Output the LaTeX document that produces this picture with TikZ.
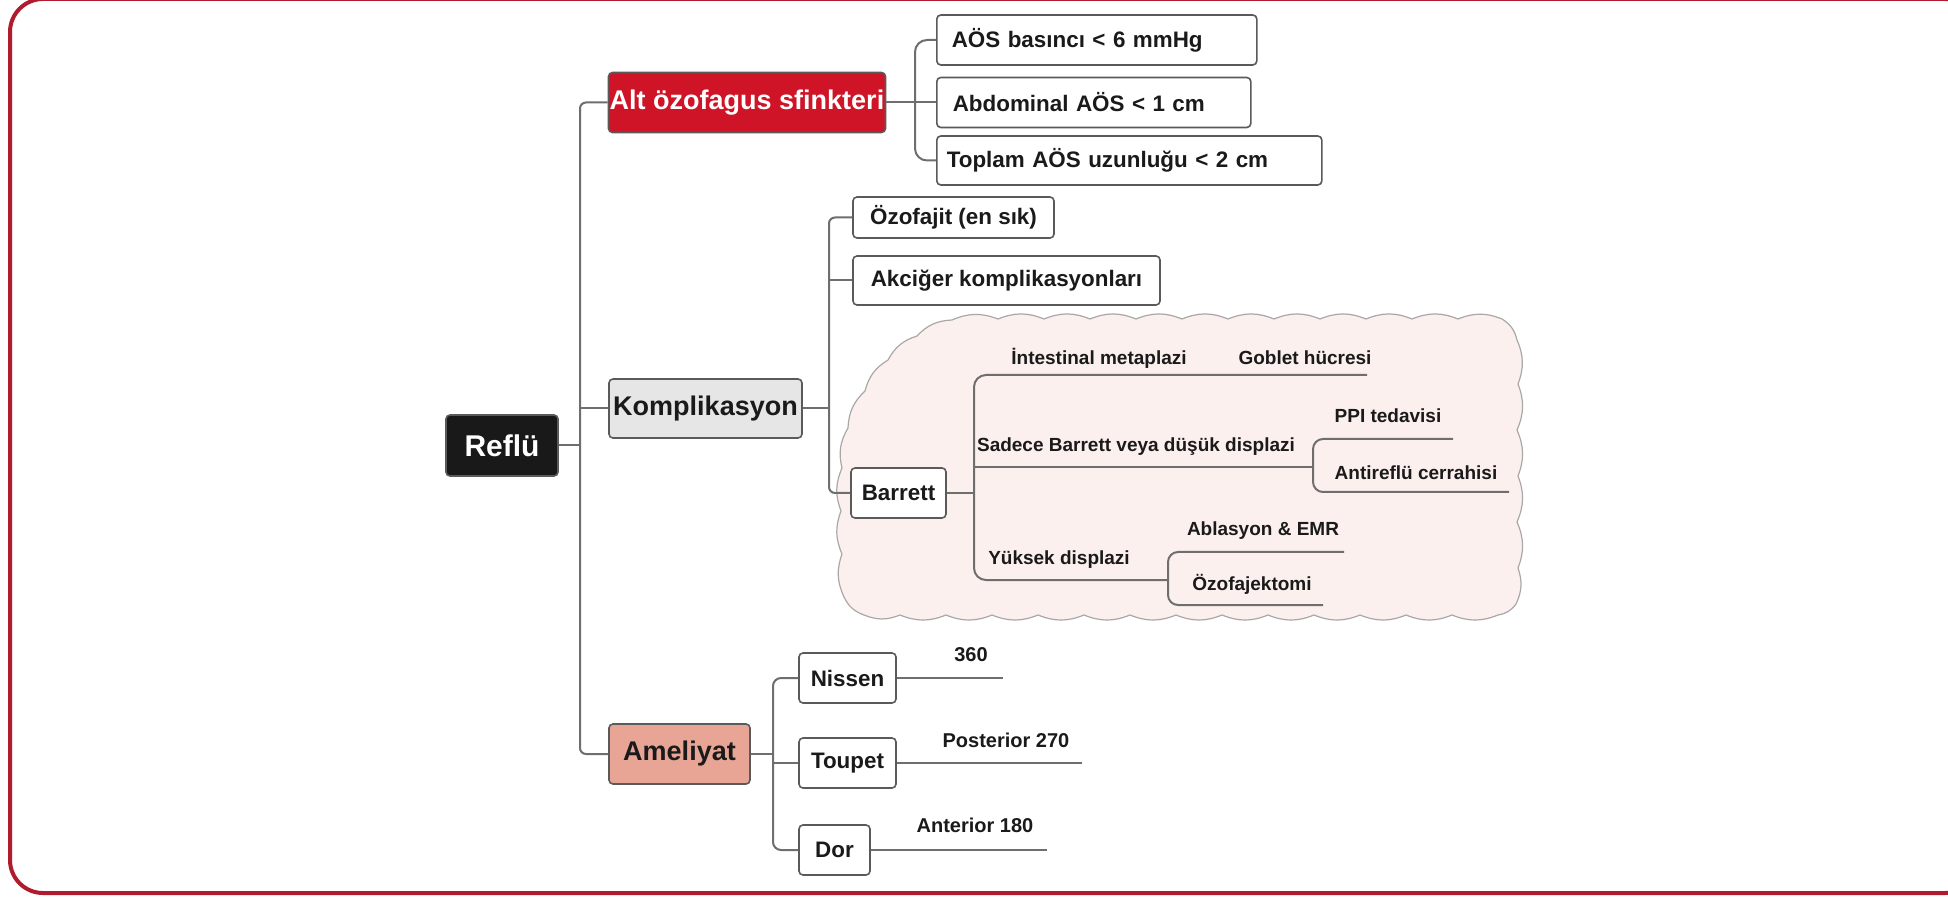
\documentclass[tikz,border=0pt]{standalone}
\usepackage{fontspec}
\setmainfont{Liberation Sans}
\definecolor{framered}{HTML}{B01C2E}
\definecolor{altred}{HTML}{CE1426}
\definecolor{kompgray}{HTML}{E6E6E6}
\definecolor{amelsal}{HTML}{E8A595}
\definecolor{cloudfill}{HTML}{FCF0EE}
\definecolor{cloudline}{HTML}{A8A8A8}
\definecolor{linegray}{HTML}{6E6E6E}
\definecolor{boxline}{HTML}{5A5A5A}
\definecolor{txt}{HTML}{1A1A1A}
\begin{document}
\begin{tikzpicture}[x=0.5pt,y=-0.5pt,
  conn/.style={draw=linegray, line width=1pt},
  box/.style={draw=boxline, line width=0.8pt, rounded corners=2pt, inner sep=0pt, text=txt, font=\bfseries\fontsize{11.2}{13}\selectfont},
  main/.style={box, font=\bfseries\fontsize{13.5}{16}\selectfont},
  lbl/.style={inner sep=0pt, text=txt, font=\bfseries\fontsize{9.5}{11}\selectfont},
  lblb/.style={lbl, font=\bfseries\fontsize{10}{12}\selectfont},
  cloudshape/.style={draw=cloudline, fill=cloudfill, line width=0.6pt},
  bump/.style={bend left=22}
]
\useasboundingbox (0,0) rectangle (1948,897);
\clip (0,0) rectangle (1948,897);
\fill[white] (0,0) rectangle (1948,897);
% frame
\draw[framered, line width=2pt, rounded corners=16.5pt] (10,-1) rectangle (1978,893);

% cloud
\path[cloudshape] (952,320)
  \foreach \xx in {998,1044,1090,1136,1182,1228,1274,1320,1366,1412,1458,1502} { to[bump] (\xx,319) }
  to[bump] (1517,340)
  \foreach \yy/\xx in {384/1518,430/1517,476/1518,522/1517,568/1518,604/1516} { to[bump] (\xx,\yy) }
  to[bump] (1498,615)
  \foreach \xx in {1452,1406,1360,1314,1268,1222,1176,1130,1084,1038,992,946,900,864} { to[bump] (\xx,615) }
  to[bump] (844,597)
  to[bump] (842,554) to[bump] (841,511) to[bump] (842,468)
  to[bump] (848,428) to[bump] (865,391) to[bump] (888,360) to[bump] (917,336)
  to[bump] (952,320) -- cycle;

% main nodes
\node[main, fill=black!90, text=white, font=\bfseries\fontsize{15}{18}\selectfont, minimum width=56pt, minimum height=30.5pt] (reflu) at (502,445.5) {Reflü};
\node[main, fill=altred, text=white, minimum width=138.5pt, minimum height=30pt] (alt) at (747,102.5) {Alt özofagus sfinkteri};
\node[main, fill=kompgray, minimum width=96.5pt, minimum height=29.5pt] (komp) at (705.5,408.5) {Komplikasyon};
\node[main, fill=amelsal, minimum width=70.5pt, minimum height=30pt] (amel) at (679.5,754) {Ameliyat};

% leaves of Alt
\node[box, fill=white, anchor=west, minimum height=25pt, inner xsep=7.5pt, text width=145pt, align=left] (aos1) at (936,40) {AÖS basıncı < 6 mmHg};
\node[box, fill=white, anchor=west, minimum height=25pt, inner xsep=8pt, text width=141pt, align=left] (aos2) at (936,102.5) {Abdominal AÖS < 1 cm};
\node[box, fill=white, anchor=west, minimum height=24.5pt, inner xsep=5pt, text width=182.5pt, align=left] (aos3) at (936,160.5) {Toplam AÖS uzunluğu < 2 cm};

% leaves of Komplikasyon
\node[box, fill=white, minimum width=100.5pt, minimum height=20.5pt] (ozo) at (953.5,217.5) {Özofajit (en sık)};
\node[box, fill=white, minimum width=153.5pt, minimum height=24.5pt] (akc) at (1006.5,280.5) {Akciğer komplikasyonları};
\node[box, fill=white, minimum width=47.5pt, minimum height=25pt] (barrett) at (898.5,493) {Barrett};

% leaves of Ameliyat
\node[box, fill=white, minimum width=48.5pt, minimum height=25pt] (nissen) at (847.5,678) {Nissen};
\node[box, fill=white, minimum width=48.5pt, minimum height=25pt] (toupet) at (847.5,763) {Toupet};
\node[box, fill=white, minimum width=35.5pt, minimum height=25pt] (dor) at (834.5,850) {Dor};

% trunk
\coordinate (t) at (580,445.5);
\draw[conn] (reflu.east) -- (t);
\draw[conn, rounded corners=3pt] (alt.west) -| (t) |- (amel.west);
\draw[conn] (komp.west) -- (komp.west -| t);

% Alt bracket
\coordinate (ab) at (915,102.5);
\draw[conn] (alt.east) -- (aos2.west);
\draw[conn, rounded corners=6pt] (aos1.west) -| (ab) |- (aos3.west);

% Komplikasyon bracket
\coordinate (kb) at (829,408.5);
\draw[conn] (komp.east) -- (kb);
\draw[conn, rounded corners=3pt] (ozo.west) -| (kb) |- (barrett.west);
\draw[conn] (akc.west) -- (akc.west -| kb);

% Barrett bracket
\coordinate (bb) at (974,493);
\coordinate (i1) at (1367,375);
\coordinate (s1) at (1313,467);
\coordinate (y1) at (1168,580);
\draw[conn] (barrett.east) -- (bb);
\draw[conn, rounded corners=6pt] (i1) -| (bb) |- (y1);
\draw[conn] (s1) -- (s1 -| bb);
\coordinate (p1) at (1453,439);
\coordinate (a1) at (1509,492);
\draw[conn, rounded corners=5pt] (p1) -| (s1) |- (a1);
\coordinate (ab1) at (1344,552);
\coordinate (oz1) at (1323,605);
\draw[conn, rounded corners=5pt] (ab1) -| (y1) |- (oz1);

% cloud labels
\node[lbl] (intest) at (1099,358) {İntestinal metaplazi};
\node[lbl] (goblet) at (1305,358) {Goblet hücresi};
\node[lbl] (sadece) at (1136,447) {Sadece Barrett veya düşük displazi};
\node[lbl] (ppi) at (1388,416) {PPI tedavisi};
\node[lbl] (antir) at (1416,473) {Antireflü cerrahisi};
\node[lbl] (yuksek) at (1059,560) {Yüksek displazi};
\node[lbl] (ablas) at (1263,531) {Ablasyon \& EMR};
\node[lbl] (ozofj) at (1252,584) {Özofajektomi};

% Ameliyat bracket
\coordinate (mb) at (773,754);
\draw[conn] (amel.east) -- (mb);
\draw[conn, rounded corners=4pt] (nissen.west) -| (mb) |- (dor.west);
\draw[conn] (toupet.west) -- (toupet.west -| mb);
\coordinate (n1) at (1003,678);
\coordinate (tp1) at (1082,763);
\coordinate (d1) at (1047,850);
\draw[conn] (nissen.east) -- (n1);
\draw[conn] (toupet.east) -- (tp1);
\draw[conn] (dor.east) -- (d1);
\node[lblb] (l360) at (971,655) {360};
\node[lblb] (lpost) at (1006,740) {Posterior 270};
\node[lblb] (lant) at (975,825) {Anterior 180};
\end{tikzpicture}
\end{document}
